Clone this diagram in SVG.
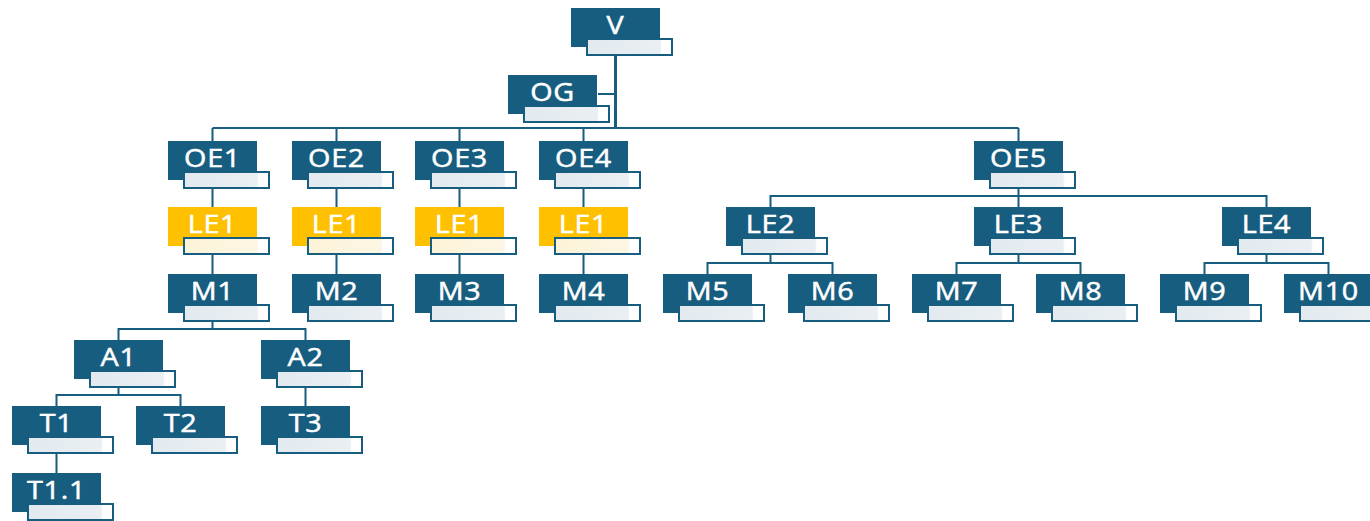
<svg xmlns="http://www.w3.org/2000/svg" xmlns:xlink="http://www.w3.org/1999/xlink" width="1370" height="521" viewBox="0 0 1370 521">
<style>
.lbl{font-family:"Open Sans","Liberation Sans",sans-serif;font-size:25px;fill:#ffffff;stroke:#ffffff;stroke-width:0.5px;text-anchor:middle;letter-spacing:0.6px}
.main{fill:#175d7f}
.mainY{fill:#ffc000}
.sub{fill:url(#gB);stroke:#175d7f;stroke-width:2}
.subY{fill:url(#gY);stroke:#175d7f;stroke-width:2}
.con{fill:none;stroke:#175d7f;stroke-width:2}
</style>
<defs>
<linearGradient id="gB" x1="0" y1="0" x2="1" y2="0">
<stop offset="0" stop-color="#e3eaef"/><stop offset="0.86" stop-color="#e9eff3"/><stop offset="0.88" stop-color="#ffffff"/><stop offset="1" stop-color="#ffffff"/>
</linearGradient>
<linearGradient id="gY" x1="0" y1="0" x2="1" y2="0">
<stop offset="0" stop-color="#fdf3d8"/><stop offset="0.86" stop-color="#fdf6e4"/><stop offset="0.88" stop-color="#ffffff"/><stop offset="1" stop-color="#ffffff"/>
</linearGradient>
<g id="box"><rect class="main" x="0" y="0" width="89" height="39"/><rect class="sub" x="16" y="31" width="85" height="16"/></g>
<g id="boxY"><rect class="mainY" x="0" y="0" width="89" height="39"/><rect class="subY" x="16" y="31" width="85" height="16"/></g>
</defs>
<g id="connectors">
<path class="con" d="M615.5 55 V129" style="stroke-width:3"/>
<path class="con" d="M598 94 H615"/>
<path class="con" d="M212.5 128 H1018.5 M212.5 128 V141 M336.5 128 V141 M459.5 128 V141 M583.5 128 V141 M1018.5 128 V141"/>
<path class="con" d="M212.5 188 V207 M336.5 188 V207 M459.5 188 V207 M583.5 188 V207"/>
<path class="con" d="M212.5 254 V274 M336.5 254 V274 M459.5 254 V274 M583.5 254 V274"/>
<path class="con" d="M1018.5 188 V196 M770.5 207 V196 H1266.5 V207 M1018.5 196 V207"/>
<path class="con" d="M770.5 254 V263 M707.5 274 V263 H832.5 V274"/>
<path class="con" d="M1018.5 254 V263 M956.5 274 V263 H1080.5 V274"/>
<path class="con" d="M1266.5 254 V263 M1204.5 274 V263 H1328.5 V274"/>
<path class="con" d="M212.5 321 V329 M118.5 340 V329 H305.5 V340"/>
<path class="con" d="M118.5 387 V395 M56.5 406 V395 H180.5 V406"/>
<path class="con" d="M305.5 387 V406"/>
<path class="con" d="M56.5 453 V473"/>
</g>
<g id="V"><use xlink:href="#box" x="571" y="8"/><text class="lbl" transform="translate(615.5 34) scale(1.15 1)">V</text></g>
<g id="OG"><use xlink:href="#box" x="508" y="75"/><text class="lbl" transform="translate(552.5 101) scale(1.15 1)">OG</text></g>
<g id="OE1"><use xlink:href="#box" x="168" y="141"/><text class="lbl" transform="translate(212.5 167) scale(1.15 1)">OE1</text></g>
<g id="OE2"><use xlink:href="#box" x="292" y="141"/><text class="lbl" transform="translate(336.5 167) scale(1.15 1)">OE2</text></g>
<g id="OE3"><use xlink:href="#box" x="415" y="141"/><text class="lbl" transform="translate(459.5 167) scale(1.15 1)">OE3</text></g>
<g id="OE4"><use xlink:href="#box" x="539" y="141"/><text class="lbl" transform="translate(583.5 167) scale(1.15 1)">OE4</text></g>
<g id="OE5"><use xlink:href="#box" x="974" y="141"/><text class="lbl" transform="translate(1018.5 167) scale(1.15 1)">OE5</text></g>
<g id="LE1a"><use xlink:href="#boxY" x="168" y="207"/><text class="lbl" transform="translate(212.5 233) scale(1.15 1)">LE1</text></g>
<g id="LE1b"><use xlink:href="#boxY" x="292" y="207"/><text class="lbl" transform="translate(336.5 233) scale(1.15 1)">LE1</text></g>
<g id="LE1c"><use xlink:href="#boxY" x="415" y="207"/><text class="lbl" transform="translate(459.5 233) scale(1.15 1)">LE1</text></g>
<g id="LE1d"><use xlink:href="#boxY" x="539" y="207"/><text class="lbl" transform="translate(583.5 233) scale(1.15 1)">LE1</text></g>
<g id="LE2"><use xlink:href="#box" x="726" y="207"/><text class="lbl" transform="translate(770.5 233) scale(1.15 1)">LE2</text></g>
<g id="LE3"><use xlink:href="#box" x="974" y="207"/><text class="lbl" transform="translate(1018.5 233) scale(1.15 1)">LE3</text></g>
<g id="LE4"><use xlink:href="#box" x="1222" y="207"/><text class="lbl" transform="translate(1266.5 233) scale(1.15 1)">LE4</text></g>
<g id="M1"><use xlink:href="#box" x="168" y="274"/><text class="lbl" transform="translate(212.5 300) scale(1.15 1)">M1</text></g>
<g id="M2"><use xlink:href="#box" x="292" y="274"/><text class="lbl" transform="translate(336.5 300) scale(1.15 1)">M2</text></g>
<g id="M3"><use xlink:href="#box" x="415" y="274"/><text class="lbl" transform="translate(459.5 300) scale(1.15 1)">M3</text></g>
<g id="M4"><use xlink:href="#box" x="539" y="274"/><text class="lbl" transform="translate(583.5 300) scale(1.15 1)">M4</text></g>
<g id="M5"><use xlink:href="#box" x="663" y="274"/><text class="lbl" transform="translate(707.5 300) scale(1.15 1)">M5</text></g>
<g id="M6"><use xlink:href="#box" x="788" y="274"/><text class="lbl" transform="translate(832.5 300) scale(1.15 1)">M6</text></g>
<g id="M7"><use xlink:href="#box" x="912" y="274"/><text class="lbl" transform="translate(956.5 300) scale(1.15 1)">M7</text></g>
<g id="M8"><use xlink:href="#box" x="1036" y="274"/><text class="lbl" transform="translate(1080.5 300) scale(1.15 1)">M8</text></g>
<g id="M9"><use xlink:href="#box" x="1160" y="274"/><text class="lbl" transform="translate(1204.5 300) scale(1.15 1)">M9</text></g>
<g id="M10"><use xlink:href="#box" x="1284" y="274"/><text class="lbl" transform="translate(1328.5 300) scale(1.15 1)">M10</text></g>
<g id="A1"><use xlink:href="#box" x="74" y="340"/><text class="lbl" transform="translate(118.5 366) scale(1.15 1)">A1</text></g>
<g id="A2"><use xlink:href="#box" x="261" y="340"/><text class="lbl" transform="translate(305.5 366) scale(1.15 1)">A2</text></g>
<g id="T1"><use xlink:href="#box" x="12" y="406"/><text class="lbl" transform="translate(56.5 432) scale(1.15 1)">T1</text></g>
<g id="T2"><use xlink:href="#box" x="136" y="406"/><text class="lbl" transform="translate(180.5 432) scale(1.15 1)">T2</text></g>
<g id="T3"><use xlink:href="#box" x="261" y="406"/><text class="lbl" transform="translate(305.5 432) scale(1.15 1)">T3</text></g>
<g id="T1.1"><use xlink:href="#box" x="12" y="473"/><text class="lbl" transform="translate(56.5 499) scale(1.15 1)">T1.1</text></g>
</svg>
